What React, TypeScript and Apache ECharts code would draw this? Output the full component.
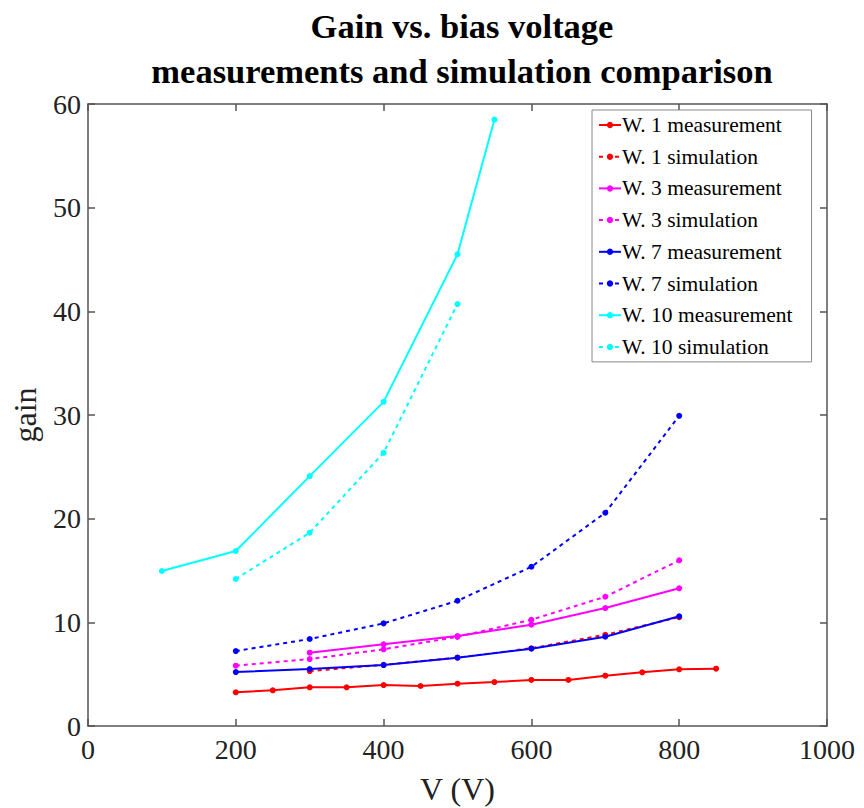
import React, { useEffect, useRef } from "react";
import * as echarts from "echarts";

const xTicks = [0, 200, 400, 600, 800, 1000];
const yTicks = [0, 10, 20, 30, 40, 50, 60];

const w1MeasV = [200, 250, 300, 350, 400, 450, 500, 550, 600, 650, 700, 750, 800, 850];
const w1MeasG = [3.25, 3.44, 3.73, 3.73, 3.95, 3.86, 4.08, 4.24, 4.44, 4.44, 4.85, 5.18, 5.47, 5.53];
const w1SimV = [300, 400, 500, 600, 700, 800];
const w1SimG = [5.3, 5.9, 6.6, 7.5, 8.8, 10.5];
const w3MeasV = [300, 400, 500, 600, 700, 800];
const w3MeasG = [7.07, 7.88, 8.68, 9.77, 11.38, 13.28];
const w3SimV = [200, 300, 400, 500, 600, 700, 800];
const w3SimG = [5.82, 6.46, 7.4, 8.6, 10.25, 12.47, 15.98];
const w7MeasV = [200, 300, 400, 500, 600, 700, 800];
const w7MeasG = [5.2, 5.5, 5.88, 6.59, 7.46, 8.61, 10.58];
const w7SimV = [200, 300, 400, 500, 600, 700, 800];
const w7SimG = [7.23, 8.39, 9.9, 12.08, 15.36, 20.57, 29.92];
const w10MeasV = [100, 200, 300, 400, 500, 550];
const w10MeasG = [14.95, 16.88, 24.1, 31.27, 45.5, 58.5];
const w10SimV = [200, 300, 400, 500];
const w10SimG = [14.18, 18.64, 26.35, 40.7];

const seriesDefs = [
  { name: "W. 1 measurement", v: w1MeasV, g: w1MeasG, color: "#ff0000", dashed: false },
  { name: "W. 1 simulation", v: w1SimV, g: w1SimG, color: "#ff0000", dashed: true },
  { name: "W. 3 measurement", v: w3MeasV, g: w3MeasG, color: "#ff00ff", dashed: false },
  { name: "W. 3 simulation", v: w3SimV, g: w3SimG, color: "#ff00ff", dashed: true },
  { name: "W. 7 measurement", v: w7MeasV, g: w7MeasG, color: "#0000ff", dashed: false },
  { name: "W. 7 simulation", v: w7SimV, g: w7SimG, color: "#0000ff", dashed: true },
  { name: "W. 10 measurement", v: w10MeasV, g: w10MeasG, color: "#00ffff", dashed: false },
  { name: "W. 10 simulation", v: w10SimV, g: w10SimG, color: "#00ffff", dashed: true },
];

const FONT = "Liberation Serif";
const AXIS_COLOR = "#555";

export default function App() {
  const ref = useRef<HTMLDivElement>(null);
  useEffect(() => {
    if (!ref.current) return;
    const chart = echarts.init(ref.current, undefined, { renderer: "svg" });
    const axisCommon = {
      axisLine: { show: true, onZero: false, lineStyle: { color: AXIS_COLOR, width: 1.5 } },
      axisTick: { show: true, inside: true, length: 7, lineStyle: { color: AXIS_COLOR, width: 1.5 } },
      splitLine: { show: false },
    };
    chart.setOption({
      animation: false,
      backgroundColor: "#ffffff",
      title: {
        text: "Gain vs. bias voltage\nmeasurements and simulation comparison",
        left: 457,
        top: -2,
        textAlign: "center",
        textStyle: {
          fontFamily: FONT,
          fontWeight: "bold",
          fontSize: 34.5,
          lineHeight: 45,
          color: "#000",
        },
      },
      grid: { left: 88, right: 37, top: 104, bottom: 82, containLabel: false, outerBoundsMode: "none" },
      legend: {
        orient: "vertical",
        left: 592,
        top: 110,
        padding: [4, 19, 4, 6],
        itemGap: 9.7,
        itemWidth: 22,
        itemHeight: 8,
        borderColor: "#888",
        borderWidth: 1,
        backgroundColor: "#fff",
        textStyle: { fontFamily: FONT, fontSize: 21.5, color: "#000", lineHeight: 22, padding: [0, 0, 0, -4] },
        data: seriesDefs.map((s) => s.name),
      },
      xAxis: [
        {
          type: "value",
          min: xTicks[0],
          max: xTicks[xTicks.length - 1],
          interval: 200,
          name: "V (V)",
          nameLocation: "middle",
          nameGap: 47,
          nameTextStyle: { fontFamily: FONT, fontSize: 32, color: "#222" },
          axisLabel: { fontFamily: FONT, fontSize: 28, color: "#222", margin: 9, formatter: (v: number) => String(v) },
          ...axisCommon,
        },
        {
          type: "value",
          position: "top",
          min: xTicks[0],
          max: xTicks[xTicks.length - 1],
          interval: 200,
          axisLabel: { show: false },
          ...axisCommon,
        },
      ],
      yAxis: [
        {
          type: "value",
          min: yTicks[0],
          max: yTicks[yTicks.length - 1],
          interval: 10,
          name: "gain",
          nameLocation: "middle",
          nameGap: 47,
          nameTextStyle: { fontFamily: FONT, fontSize: 32, color: "#222" },
          axisLabel: { fontFamily: FONT, fontSize: 28, color: "#222", margin: 7 },
          ...axisCommon,
        },
        {
          type: "value",
          position: "right",
          min: yTicks[0],
          max: yTicks[yTicks.length - 1],
          interval: 10,
          axisLabel: { show: false },
          ...axisCommon,
        },
      ],
      series: seriesDefs.map((s) => ({
        name: s.name,
        type: "line",
        xAxisIndex: 0,
        yAxisIndex: 0,
        data: s.v.map((x, i) => [x, s.g[i]]),
        symbol: "circle",
        symbolSize: 6,
        itemStyle: { color: s.color },
        lineStyle: { color: s.color, width: 2, type: s.dashed ? [4, 4] : "solid" },
      })),
    });
    return () => chart.dispose();
  }, []);
  return <div ref={ref} style={{ position: "absolute", left: 0, top: 0, width: 864, height: 808 }} />;
}
